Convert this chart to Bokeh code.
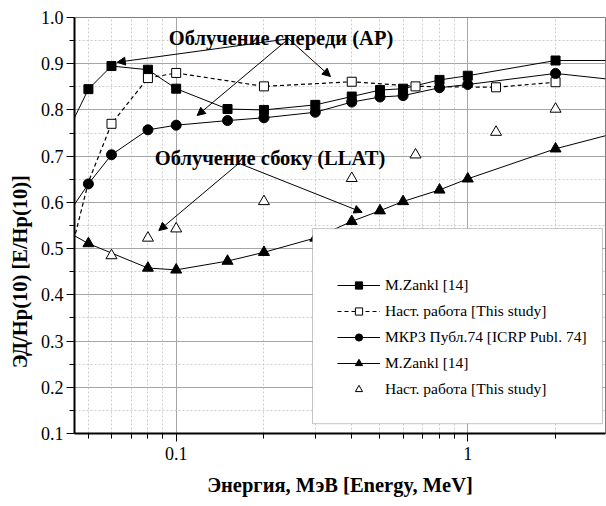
import math
from bokeh.plotting import figure
from bokeh.models import (Range1d, FixedTicker, CustomJSTickFormatter, PrintfTickFormatter,
                          Legend, LegendItem, Label, Arrow, NormalHead, BoxAnnotation)
from bokeh.embed import file_html
from bokeh.resources import INLINE

# ---------------- data ----------------
ap_zankl_e = [0.04, 0.05, 0.06, 0.08, 0.1, 0.15, 0.2, 0.3, 0.4, 0.5, 0.6, 0.8, 1.0, 2.0, 3.0]
ap_zankl_v = [0.72, 0.845, 0.895, 0.887, 0.846, 0.802, 0.800, 0.811, 0.829, 0.843, 0.846, 0.865, 0.874, 0.907, 0.907]

ap_study_e = [0.04, 0.05, 0.06, 0.08, 0.1, 0.2, 0.4, 0.662, 1.25, 2.0]
ap_study_v = [0.40, 0.644, 0.770, 0.869, 0.880, 0.851, 0.861, 0.851, 0.849, 0.860]

icrp_e = [0.04, 0.05, 0.06, 0.08, 0.1, 0.15, 0.2, 0.3, 0.4, 0.5, 0.6, 0.8, 1.0, 2.0, 3.0]
icrp_v = [0.55, 0.640, 0.703, 0.757, 0.767, 0.777, 0.783, 0.795, 0.817, 0.828, 0.831, 0.848, 0.855, 0.879, 0.867]

llat_zankl_e = [0.04, 0.05, 0.08, 0.1, 0.15, 0.2, 0.3, 0.4, 0.5, 0.6, 0.8, 1.0, 2.0, 3.0]
llat_zankl_v = [0.545, 0.511, 0.458, 0.454, 0.473, 0.492, 0.523, 0.559, 0.582, 0.602, 0.627, 0.651, 0.716, 0.745]

llat_study_e = [0.06, 0.08, 0.1, 0.2, 0.4, 0.662, 1.25, 2.0]
llat_study_v = [0.485, 0.523, 0.543, 0.602, 0.652, 0.703, 0.752, 0.802]

legend_labels = ["M.Zankl [14]", "Наст. работа [This study]", "МКРЗ Публ.74 [ICRP Publ. 74]",
                 "M.Zankl [14]", "Наст. работа [This study]"]

x_major = [0.1, 1]
x_minor = [0.05, 0.06, 0.07, 0.08, 0.09, 0.2, 0.3, 0.4, 0.5, 0.6, 0.7, 0.8, 0.9, 2, 3]
y_major = [0.1, 0.2, 0.3, 0.4, 0.5, 0.6, 0.7, 0.8, 0.9, 1.0]
y_minor = [0.15, 0.25, 0.35, 0.45, 0.55, 0.65, 0.75, 0.85, 0.95]

SERIF = "Liberation Serif"

p = figure(width=606, height=506, x_axis_type="log",
           x_range=Range1d(0.0448, 2.967), y_range=Range1d(0.1, 1.0),
           output_backend="svg", toolbar_location=None,
           min_border_left=74, min_border_right=1, min_border_top=17, min_border_bottom=73)

p.background_fill_color = "white"
p.border_fill_color = "white"
p.outline_line_color = "#808080"
p.outline_line_width = 1

# ticks / axes
p.xaxis.ticker = FixedTicker(ticks=x_major, minor_ticks=x_minor)
p.yaxis.ticker = FixedTicker(ticks=y_major, minor_ticks=y_minor)
p.xgrid.ticker = FixedTicker(ticks=x_major, minor_ticks=x_minor)
p.ygrid.ticker = FixedTicker(ticks=y_major, minor_ticks=y_minor)
p.xaxis.formatter = CustomJSTickFormatter(code="return tick.toString()")
p.yaxis.formatter = PrintfTickFormatter(format="%.1f")

for ax in (p.xaxis, p.yaxis):
    ax.axis_line_color = "black"
    ax.axis_line_width = 2
    ax.major_tick_line_color = "black"
    ax.minor_tick_line_color = "black"
    ax.major_tick_line_width = 1
    ax.minor_tick_line_width = 1
    ax.major_tick_out = 8
    ax.major_tick_in = 0
    ax.minor_tick_out = 5
    ax.minor_tick_in = 0
    ax.major_label_text_font = SERIF
    ax.major_label_text_font_size = "18px"
    ax.major_label_text_color = "black"
    ax.axis_label_text_font = SERIF
    ax.axis_label_text_font_style = "bold"
    ax.axis_label_text_font_size = "20.5px"
    ax.axis_label_text_color = "black"

p.xaxis.major_label_standoff = 5
p.yaxis.major_label_standoff = 3

p.xaxis.axis_label = "Энергия, МэВ [Energy, MeV]"
p.xaxis.axis_label_standoff = 11
# trailing no-break spaces shift the rotated label downward, as in the original
p.yaxis.axis_label = "ЭД/Hp(10) [E/Hp(10)]" + "\u00a0" * 18
p.yaxis.axis_label_standoff = 7

for g in (p.xgrid, p.ygrid):
    g.grid_line_color = "#a6a6a6"
    g.grid_line_width = 1
    g.minor_grid_line_color = "#cccccc"
    g.minor_grid_line_width = 1
    g.minor_grid_line_dash = "2 2"

# ---------------- series ----------------
r1l = p.line(ap_zankl_e, ap_zankl_v, line_color="black", line_width=1)
r1m = p.scatter(ap_zankl_e[1:-1], ap_zankl_v[1:-1], marker="square", size=9,
                fill_color="black", line_color="black")

r2l = p.line(ap_study_e, ap_study_v, line_color="black", line_width=1.2, line_dash="4 3")
r2m = p.scatter(ap_study_e[2:], ap_study_v[2:], marker="square", size=9,
                fill_color="white", line_color="black", line_width=1)

r3l = p.line(icrp_e, icrp_v, line_color="black", line_width=1)
r3m = p.scatter(icrp_e[1:-1], icrp_v[1:-1], marker="circle", size=10,
                fill_color="black", line_color="black")

r4l = p.line(llat_zankl_e, llat_zankl_v, line_color="black", line_width=1)
r4m = p.scatter(llat_zankl_e[1:-1], llat_zankl_v[1:-1], marker="triangle", size=11,
                fill_color="black", line_color="black")

r5m = p.scatter(llat_study_e, llat_study_v, marker="triangle", size=11,
                fill_color="white", line_color="black", line_width=1)

# ---------------- annotations ----------------
p.add_layout(Label(x=0.2288, y=0.956, text="Облучение спереди (АР)", text_font=SERIF,
                   text_font_style="bold", text_font_size="20.5px", text_align="center",
                   text_baseline="alphabetic", text_color="black"))
p.add_layout(Label(x=0.2141, y=0.697, text="Облучение  сбоку (LLAT)", text_font=SERIF,
                   text_font_style="bold", text_font_size="20.5px", text_align="center",
                   text_baseline="alphabetic", text_color="black"))

arrows = [
    ((0.2429, 0.9539), (0.0628, 0.9032)),
    ((0.2429, 0.9539), (0.1180, 0.7879)),
    ((0.2429, 0.9539), (0.3381, 0.8723)),
    ((0.1640, 0.6846), (0.0872, 0.5390)),
    ((0.1640, 0.6846), (0.4343, 0.5786)),
]
for (xs, ys), (xe, ye) in arrows:
    p.add_layout(Arrow(x_start=xs, y_start=ys, x_end=xe, y_end=ye, line_color="black",
                       line_width=1,
                       end=NormalHead(size=8, fill_color="black", line_color="black", line_width=1)))

# legend box
p.add_layout(BoxAnnotation(left=0.2934, right=2.897, bottom=0.1212, top=0.5433,
                           fill_color="white", fill_alpha=1.0, line_color="#404040",
                           line_width=1))

legend = Legend(items=[
    LegendItem(label=legend_labels[0], renderers=[r1l, r1m]),
    LegendItem(label=legend_labels[1], renderers=[r2l, r2m]),
    LegendItem(label=legend_labels[2], renderers=[r3l, r3m]),
    LegendItem(label=legend_labels[3], renderers=[r4l, r4m]),
    LegendItem(label=legend_labels[4], renderers=[r5m]),
], location=(263, 35), padding=0, margin=0, spacing=8,
    glyph_width=43, glyph_height=18, label_height=18, label_standoff=5,
    label_text_font=SERIF, label_text_font_size="15.5px", label_text_color="black",
    border_line_alpha=0, background_fill_alpha=0)
p.add_layout(legend, "center")

open("out.html", "w").write(file_html(p, INLINE))
